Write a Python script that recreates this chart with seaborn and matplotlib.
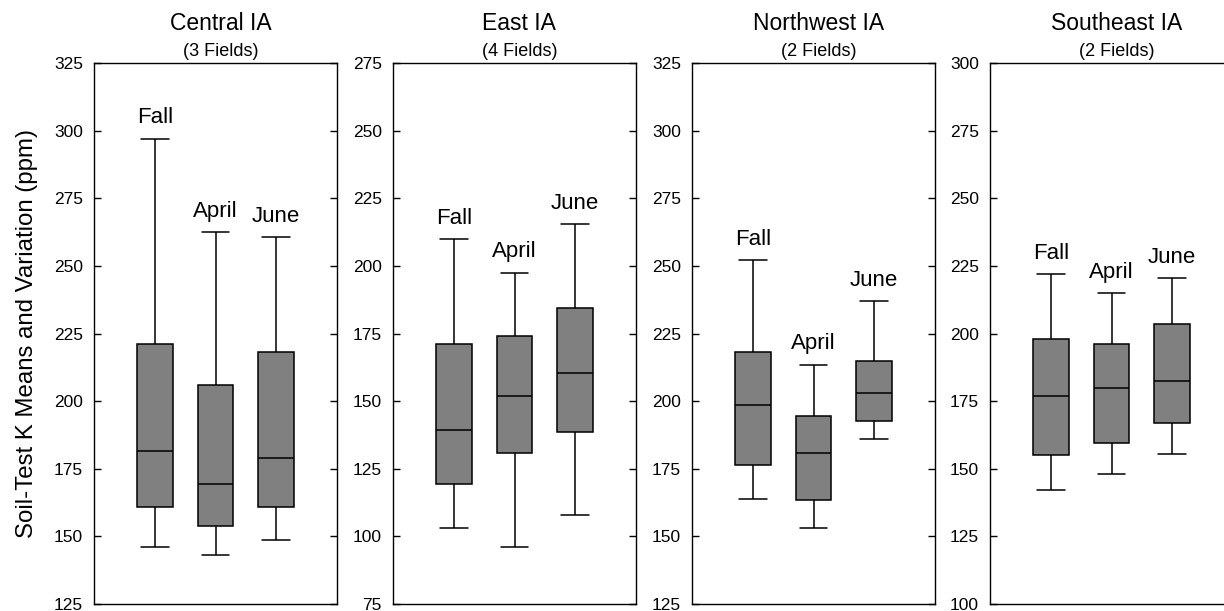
import numpy as np
import pandas as pd
import matplotlib
matplotlib.use('Agg')
import matplotlib.pyplot as plt
import seaborn as sns

# ------------------------------------------------------------
# data: five-number summaries (min, q1, median, q3, max), ppm
# ------------------------------------------------------------
seasons = ['Fall', 'April', 'June']
regions = ['Central IA', 'East IA', 'Northwest IA', 'Southeast IA']
n_fields = [3, 4, 2, 2]

central_ia = [[146, 161, 181.5, 221, 297],
              [143, 154, 169.5, 206, 262.5],
              [148.5, 161, 179, 218, 260.5]]
east_ia = [[103, 119.5, 139.5, 171, 210],
           [96, 131, 152, 174, 197.5],
           [108, 138.5, 160.5, 184.5, 215.5]]
northwest_ia = [[164, 176.5, 198.5, 218, 252],
                [153, 163.5, 181, 194.5, 213.5],
                [186, 192.5, 203, 215, 237]]
southeast_ia = [[142, 155, 177, 198, 222],
                [148, 159.5, 180, 196, 215],
                [155.5, 167, 182.5, 203.5, 220.5]]

y_ranges = [(125, 325), (75, 275), (125, 325), (100, 300)]

summaries = [central_ia, east_ia, northwest_ia, southeast_ia]

# long table: the five stats act as observations, whiskers span min..max
rows = []
for reg, summ in zip(regions, summaries):
    for season, stats in zip(seasons, summ):
        for v in stats:
            rows.append({'Region': reg, 'Season': season, 'K': v})
df = pd.DataFrame(rows)

# ------------------------------------------------------------
# style
# ------------------------------------------------------------
sns.set_style('white')
plt.rcParams['font.family'] = ['Liberation Sans', 'DejaVu Sans']
plt.rcParams['text.color'] = 'black'
plt.rcParams['axes.labelcolor'] = 'black'
plt.rcParams['ytick.color'] = 'black'
plt.rcParams['axes.edgecolor'] = 'black'
plt.rcParams['axes.linewidth'] = 1.0

W, H = 1224, 611
fig = plt.figure(figsize=(W / 100, H / 100), dpi=100)

lefts = [94, 393, 692, 990]
ax_w, ax_top, ax_bot = 243, 63, 604

for i, reg in enumerate(regions):
    ax = fig.add_axes([lefts[i] / W, 1 - ax_bot / H, ax_w / W, (ax_bot - ax_top) / H])
    sub = df[df['Region'] == reg]
    sns.boxplot(data=sub, x='Season', y='K', order=seasons, ax=ax,
                whis=(0, 100), color='#808080', saturation=1,
                linecolor='black', linewidth=1.1, width=0.585,
                capwidths=0.46, showfliers=False)

    lo, hi = y_ranges[i]
    ax.set_ylim(lo, hi)
    ax.set_yticks(np.arange(lo, hi + 1, 25))
    ax.set_xlim(-1, 3)
    ax.set_xlabel('')
    ax.set_ylabel('')
    ax.tick_params(axis='y', direction='in', length=5, width=1, colors='black',
                   left=True, right=True, labelleft=True, labelright=False,
                   labelsize=12.5, pad=8)
    ax.tick_params(axis='x', bottom=False, labelbottom=False)
    for sp in ax.spines.values():
        sp.set_visible(True)
        sp.set_color('black')
        sp.set_linewidth(1.0)

    # season labels above the upper whisker
    for j, (season, stats) in enumerate(zip(seasons, summaries[i])):
        ax.annotate(season, xy=(j, stats[4]), xytext=(0, 11), textcoords='offset points',
                    ha='center', va='baseline', fontsize=16, color='black')

    # panel titles
    ax.annotate(reg, xy=(0.5, 1), xycoords='axes fraction', xytext=(3.5, 28.5),
                textcoords='offset points', ha='center', va='center', fontsize=16.5,
                color='black')
    ax.annotate(f'({n_fields[i]} Fields)', xy=(0.5, 1), xycoords='axes fraction',
                xytext=(3.5, 8), textcoords='offset points', ha='center', va='center',
                fontsize=13, color='black')

    if i == 0:
        ax.set_ylabel('Soil-Test K Means and Variation (ppm)', fontsize=17.3,
                      labelpad=11, color='black')

fig.savefig('out.png', dpi=100)
